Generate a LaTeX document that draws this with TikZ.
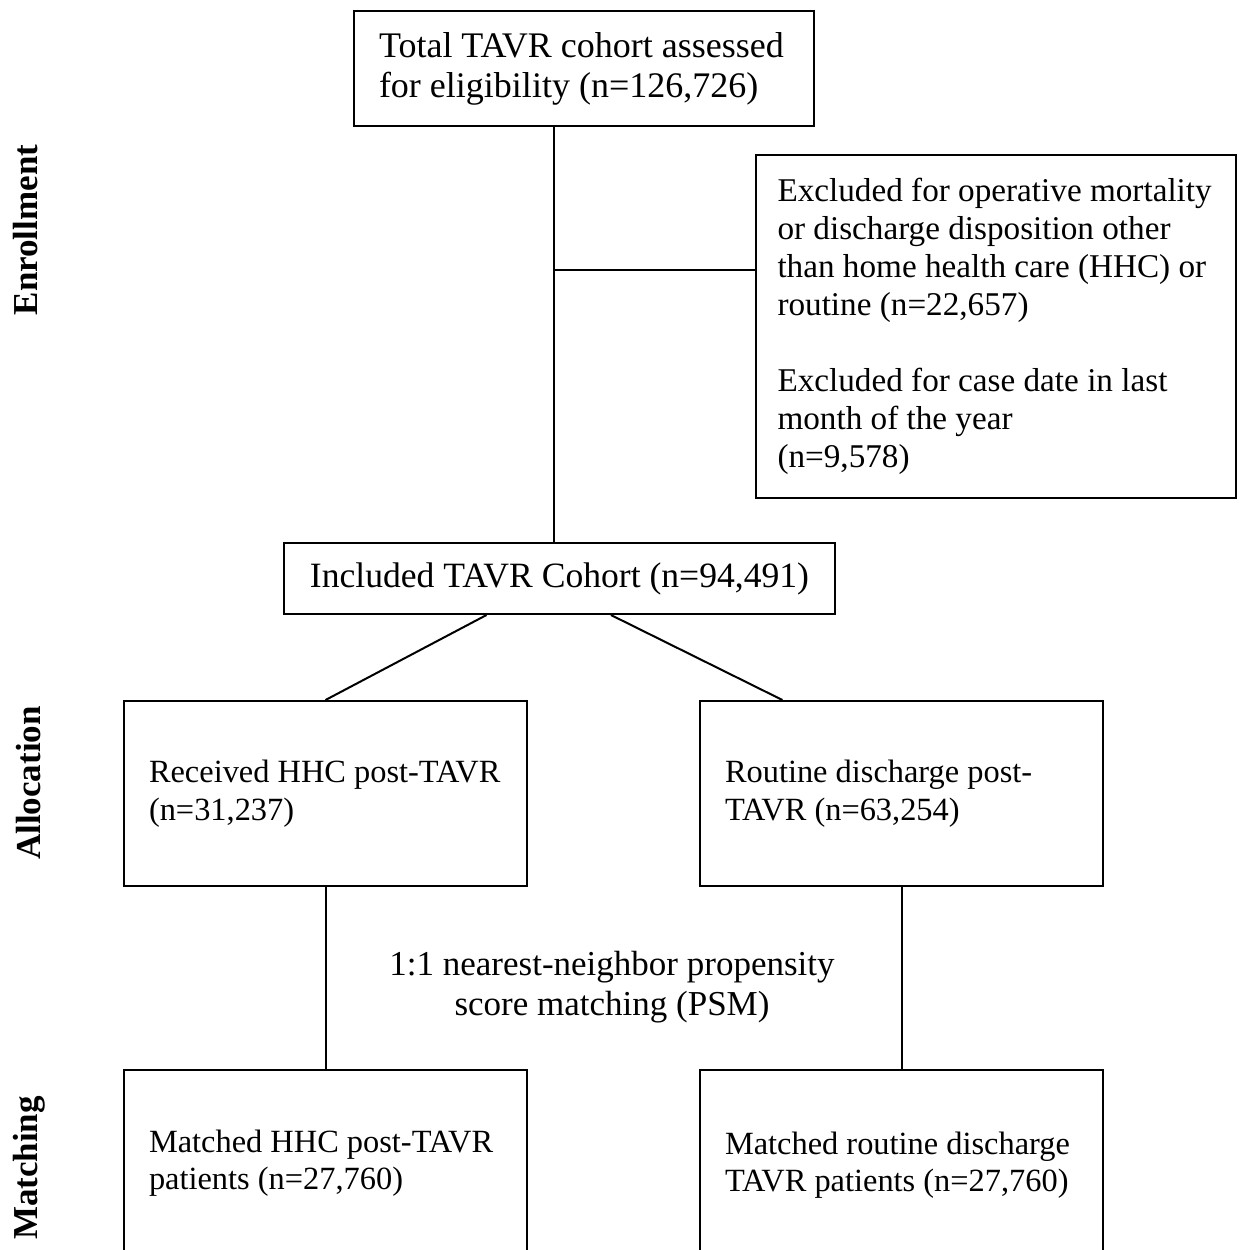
\documentclass[tikz,border=0pt]{standalone}
\usepackage{fontspec}
\setmainfont{Liberation Serif}
\usepackage{tikz}
\usetikzlibrary{positioning,calc}

\begin{document}
\begin{tikzpicture}[x=0.5pt,y=-0.5pt,
  font=\fontsize{17.5pt}{20pt}\selectfont,
  bx/.style={rectangle,draw,line width=1pt,align=flush left,inner xsep=12.5pt,inner ysep=0pt,
    execute at begin node={\hyphenpenalty=10000\exhyphenpenalty=10000}},
  smallbx/.style={bx,text width=176.5pt,minimum height=92.5pt,font=\fontsize{16.2pt}{18.7pt}\selectfont},
  stage/.style={rotate=90,font=\fontsize{17.5pt}{20pt}\selectfont\bfseries},
  link/.style={line width=1pt}]
  \useasboundingbox (0,0) rectangle (1244,1250);
  % stage labels
  \node[stage] (enrol) at (26,230) {Enrollment};
  \node[stage] (alloc) at (29,783) {Allocation};
  \node[stage] (match) at (29,1168) {Matching};
  % boxes
  \node[bx,text width=205pt,minimum height=57.5pt,font=\fontsize{18pt}{20pt}\selectfont] (total) at (584,68.5) {Total TAVR cohort assessed\\for eligibility (n=126,726)};
  \node[bx,inner xsep=10.75pt,text width=218.5pt,minimum height=171.5pt,font=\fontsize{16.6pt}{19pt}\selectfont] (excl) at (996,326.5)
    {Excluded for operative mortality\\or discharge disposition other\\than home health care (HHC) or\\routine (n=22,657)\\[19pt]Excluded for case date in last\\month of the year\\(n=9,578)};
  \node[bx,align=center,minimum width=275.5pt,minimum height=35.5pt,font=\fontsize{17.8pt}{20pt}\selectfont] (incl) at (559.5,578.5) {Included TAVR Cohort (n=94,491)};
  \node[smallbx] (hhc) at (325.5,793.5) {Received HHC post-TAVR\\(n=31,237)};
  \node[smallbx] (rout) at (901.5,793.5) {Routine discharge post-\\TAVR (n=63,254)};
  \node[smallbx,anchor=north,minimum height=93pt] (mhhc) at (325.5,1069) {Matched HHC post-TAVR\\patients (n=27,760)};
  \node[smallbx,anchor=north,minimum height=95pt] (mrout) at (901.5,1069) {Matched routine discharge\\TAVR patients (n=27,760)};
  \node[align=center] (psm) at (612,987) {1:1 nearest-neighbor propensity\\score matching (PSM)};
  % connectors
  \coordinate (trunk) at (554,270);
  \draw[link] (total.south -| trunk) -- (incl.north -| trunk);
  \draw[link] (trunk) -- (trunk -| excl.west);
  \draw[link] ($(incl.south west)!.368!(incl.south east)$) -- (hhc.north);
  \draw[link] ($(incl.south west)!.593!(incl.south east)$) -- ($(rout.north west)!.206!(rout.north east)$);
  \draw[link] (hhc.south) -- (mhhc.north);
  \draw[link] (rout.south) -- (mrout.north);
\end{tikzpicture}
\end{document}
